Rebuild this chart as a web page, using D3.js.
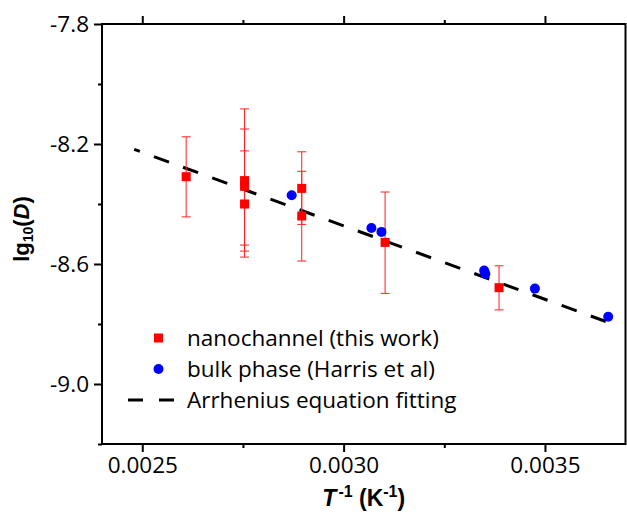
<!DOCTYPE html>
<html>
<head>
<meta charset="utf-8">
<script src="https://cdn.jsdelivr.net/npm/d3@7"></script>
<style>
  body { margin: 0; background: #fff; }
  svg { display: block; }
</style>
</head>
<body>
<svg id="chart" width="627" height="519"></svg>
<script>
// nanochannel points (this work) with error bar ends
var nanoX = [0.002609, 0.002754, 0.002754, 0.002754, 0.002896, 0.002896, 0.003103, 0.003386];
var nanoY = [-8.309, -8.322, -8.341, -8.400, -8.348, -8.440, -8.528, -8.679];
var nanoLow = [-8.443, -8.557, -8.537, -8.577, -8.468, -8.590, -8.698, -8.753];
var nanoHigh = [-8.176, -8.083, -8.150, -8.223, -8.226, -8.291, -8.360, -8.606];

// bulk phase (Harris et al)
var bulkX = [0.002871, 0.003069, 0.003094, 0.003349, 0.003352, 0.003475, 0.003657];
var bulkY = [-8.371, -8.480, -8.493, -8.622, -8.633, -8.682, -8.776];

// Arrhenius fit line ends
var fitX = [0.00248, 0.003664];
var fitY = [-8.218, -8.798];

var xTicks = [0.0025, 0.0030, 0.0035];
var xTickLabels = ["0.0025", "0.0030", "0.0035"];
var xMinor = [0.00275, 0.00325];
var yTicks = [-7.8, -8.2, -8.6, -9.0];
var yTickLabels = ["-7.8", "-8.2", "-8.6", "-9.0"];
var yMinor = [-8.0, -8.4, -8.8, -9.2];

var legendNames = ["nanochannel (this work)", "bulk phase (Harris et al)", "Arrhenius equation fitting"];

var padL = 102, padR = 625.5, padT = 24, padB = 444;

var x = d3.scaleLinear().domain([0.0024, 0.0037]).range([padL, padR]);
var y = d3.scaleLinear().domain([-9.2, -7.8]).range([padB, padT]);

var svg = d3.select('#chart');
var tickFont = 'Open Sans';

function styleAxis(g) {
  g.select('.domain').remove();
  g.selectAll('line').attr('stroke', '#000').attr('stroke-width', 2);
  g.selectAll('text')
    .attr('font-family', tickFont)
    .attr('font-size', 22.5)
    .attr('fill', '#000');
}

// bottom axis
svg.append('g')
  .attr('transform', 'translate(0,' + padB + ')')
  .call(d3.axisBottom(x).tickValues(xTicks).tickSize(8).tickPadding(5)
    .tickFormat(function(d, i) { return xTickLabels[i]; }))
  .call(styleAxis);
svg.append('g')
  .attr('transform', 'translate(0,' + padB + ')')
  .call(d3.axisBottom(x).tickValues(xMinor).tickSize(4).tickFormat(''))
  .call(styleAxis);

// top axis, ticks only
svg.append('g')
  .attr('transform', 'translate(0,' + padT + ')')
  .call(d3.axisTop(x).tickValues(xTicks).tickSize(8).tickFormat(''))
  .call(styleAxis);
svg.append('g')
  .attr('transform', 'translate(0,' + padT + ')')
  .call(d3.axisTop(x).tickValues(xMinor).tickSize(4).tickFormat(''))
  .call(styleAxis);

// left axis
svg.append('g')
  .attr('transform', 'translate(' + padL + ',0)')
  .call(d3.axisLeft(y).tickValues(yTicks).tickSize(8).tickPadding(5)
    .tickFormat(function(d, i) { return yTickLabels[i]; }))
  .call(styleAxis);
svg.append('g')
  .attr('transform', 'translate(' + padL + ',0)')
  .call(d3.axisLeft(y).tickValues(yMinor).tickSize(4).tickFormat(''))
  .call(styleAxis);

// frame
svg.append('rect')
  .attr('x', padL)
  .attr('y', padT)
  .attr('width', padR - padL)
  .attr('height', padB - padT)
  .attr('fill', 'none')
  .attr('stroke', '#000')
  .attr('stroke-width', 2);

// fit line
var line = d3.line()
  .x(function(d) { return x(d[0]); })
  .y(function(d) { return y(d[1]); });

svg.append('path')
  .datum(d3.zip(fitX, fitY))
  .attr('d', line)
  .attr('fill', 'none')
  .attr('stroke', '#000')
  .attr('stroke-width', 3)
  .attr('stroke-dasharray', '16,15')
  .attr('stroke-dashoffset', 10);

// error bars
var nano = d3.range(nanoX.length).map(function(i) {
  return { x: nanoX[i], y: nanoY[i], lo: nanoLow[i], hi: nanoHigh[i] };
});

var errs = svg.append('g')
  .attr('stroke', '#ff2020')
  .attr('stroke-width', 1);

nano.forEach(function(d) {
  var cx = x(d.x);
  errs.append('line')
    .attr('x1', cx).attr('x2', cx)
    .attr('y1', y(d.lo)).attr('y2', y(d.hi));
  [d.lo, d.hi].forEach(function(v) {
    errs.append('line')
      .attr('x1', cx - 4.5).attr('x2', cx + 4.5)
      .attr('y1', y(v)).attr('y2', y(v));
  });
});

// bulk circles
svg.append('g').selectAll('circle')
  .data(d3.zip(bulkX, bulkY))
  .enter()
  .append('circle')
  .attr('cx', function(d) { return x(d[0]); })
  .attr('cy', function(d) { return y(d[1]); })
  .attr('r', 5)
  .attr('fill', '#0000ff');

// nano squares
var sq = 9;
svg.append('g').selectAll('rect')
  .data(nano)
  .enter()
  .append('rect')
  .attr('x', function(d) { return x(d.x) - sq / 2; })
  .attr('y', function(d) { return y(d.y) - sq / 2; })
  .attr('width', sq)
  .attr('height', sq)
  .attr('fill', '#ff0000');

// legend
var legend = svg.append('g')
  .attr('font-family', tickFont)
  .attr('font-size', 22.5)
  .attr('fill', '#000');

var rowY = [338, 369, 400];

legend.append('rect')
  .attr('x', 158.5 - 4.5).attr('y', rowY[0] - 4.5)
  .attr('width', 9).attr('height', 9)
  .attr('fill', '#ff0000');
legend.append('circle')
  .attr('cx', 158.5).attr('cy', rowY[1])
  .attr('r', 5)
  .attr('fill', '#0000ff');
legend.append('line')
  .attr('x1', 128).attr('x2', 175)
  .attr('y1', rowY[2]).attr('y2', rowY[2])
  .attr('stroke', '#000')
  .attr('stroke-width', 3)
  .attr('stroke-dasharray', '15,16');

legend.selectAll('text')
  .data(legendNames)
  .enter()
  .append('text')
  .attr('x', 187)
  .attr('y', function(d, i) { return rowY[i] + 8; })
  .text(function(d) { return d; });

// axis titles
var xt = svg.append('text')
  .attr('x', (padL + padR) / 2)
  .attr('y', 506)
  .attr('text-anchor', 'middle')
  .attr('font-family', 'Liberation Sans')
  .attr('font-weight', 'bold')
  .attr('font-size', 23)
  .attr('fill', '#000');
xt.append('tspan').attr('font-style', 'italic').text('T');
xt.append('tspan').attr('font-size', 16).attr('dy', -9).attr('dx', 2).text('-1');
xt.append('tspan').attr('dy', 9).text(' (K');
xt.append('tspan').attr('font-size', 16).attr('dy', -9).text('-1');
xt.append('tspan').attr('dy', 9).text(')');

var yt = svg.append('text')
  .attr('transform', 'translate(29,229) rotate(-90)')
  .attr('text-anchor', 'middle')
  .attr('font-family', 'Liberation Sans')
  .attr('font-weight', 'bold')
  .attr('font-size', 22)
  .attr('fill', '#000');
yt.append('tspan').text('lg');
yt.append('tspan').attr('font-size', 14).attr('dy', 4).text('10');
yt.append('tspan').attr('dy', -4).text('(');
yt.append('tspan').attr('font-style', 'italic').text('D');
yt.append('tspan').text(')');
</script>
</body>
</html>
